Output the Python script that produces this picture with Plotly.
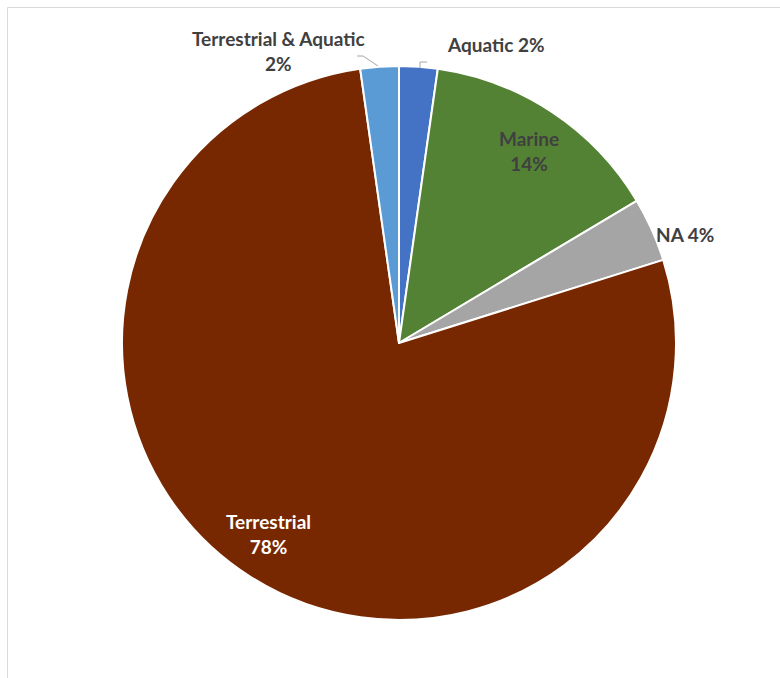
import plotly.graph_objects as go

W, H = 780, 678

categories = ["Aquatic", "Marine", "NA", "Terrestrial", "Terrestrial & Aquatic"]
counts = [3, 19, 5, 104, 3]
colors = ["#4472C4", "#548235", "#A5A5A5", "#772800", "#5B9BD5"]

total = sum(counts)
pct = [round(v / total * 100) for v in counts]

fig = go.Figure(go.Pie(
    labels=categories,
    values=counts,
    sort=False,
    direction="clockwise",
    rotation=0,
    marker=dict(colors=colors, line=dict(color="white", width=2)),
    textinfo="none",
    hoverinfo="label+percent",
    showlegend=False,
    domain=dict(x=[122 / W, 676 / W], y=[(H - 620) / H, (H - 66) / H]),
))

def px(x):
    return x / W

def py(y):
    return 1 - y / H

FS = 19
font_dark = dict(family="Lato", size=FS, color="#404040")
font_white = dict(family="Lato", size=FS, color="#FFFFFF")

labels_pos = {
    "Aquatic": (496, 44, "{c} {p}%", font_dark),
    "Marine": (529, 151, "{c}<br>{p}%", font_dark),
    "NA": (685, 234, "{c} {p}%", font_dark),
    "Terrestrial": (268, 534, "{c}<br>{p}%", font_white),
    "Terrestrial & Aquatic": (278, 51, "{c}<br>{p}%", font_dark),
}

annotations = []
for c, p in zip(categories, pct):
    x, y, tpl, f = labels_pos[c]
    annotations.append(dict(
        x=px(x), y=py(y), xref="paper", yref="paper",
        text="<b>" + tpl.format(c=c, p=p) + "</b>",
        showarrow=False, font=f, align="center",
        xanchor="center", yanchor="middle",
    ))

shapes = [
    # leader lines
    dict(type="path", xref="paper", yref="paper",
         path=f"M {px(357)} {py(56)} L {px(363)} {py(56)} L {px(378)} {py(66)}",
         line=dict(color="#A6A6A6", width=1)),
    dict(type="path", xref="paper", yref="paper",
         path=f"M {px(427)} {py(62)} L {px(420)} {py(62)} L {px(420)} {py(68)}",
         line=dict(color="#A6A6A6", width=1)),
    # chart border
    dict(type="line", xref="paper", yref="paper",
         x0=px(7.5), x1=1.0, y0=py(7.5), y1=py(7.5),
         line=dict(color="#D9D9D9", width=1)),
    dict(type="line", xref="paper", yref="paper",
         x0=px(7.5), x1=px(7.5), y0=py(7.5), y1=0,
         line=dict(color="#D9D9D9", width=1)),
]

fig.update_layout(
    width=W, height=H,
    margin=dict(l=0, r=0, t=0, b=0),
    paper_bgcolor="white",
    plot_bgcolor="white",
    annotations=annotations,
    shapes=shapes,
)

fig.write_html("out.html")
